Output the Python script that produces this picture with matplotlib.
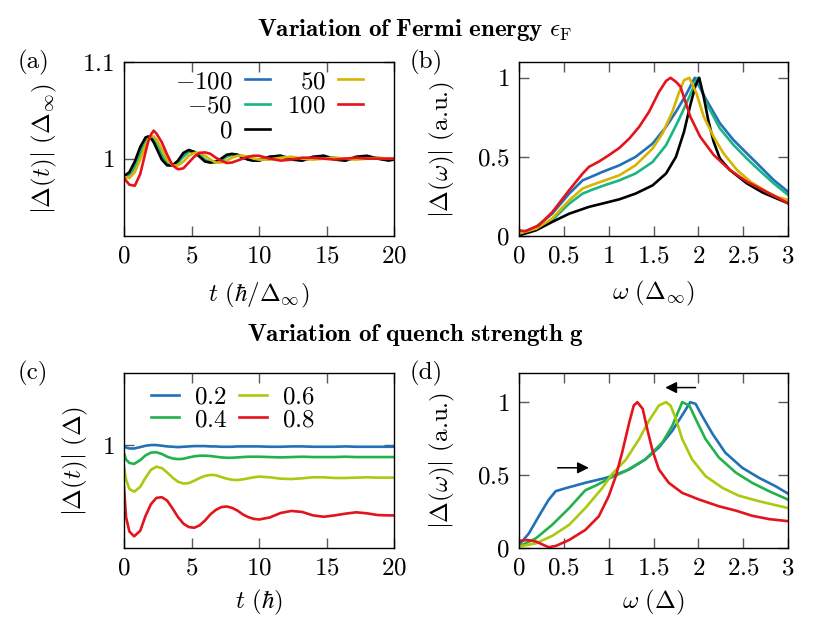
import matplotlib
matplotlib.use("Agg")
import matplotlib.pyplot as plt
import matplotlib.ticker as ticker

plt.rcParams['mathtext.fontset'] = 'cm'
plt.rcParams['font.family'] = 'cmr10'
plt.rcParams['axes.unicode_minus'] = False
plt.rcParams['font.size'] = 18

# ---- panel (a): |Delta(t)| for several Fermi energies ----
t_a = [0, 0.4, 0.8, 1.2, 1.6, 1.8, 2.0, 2.2, 2.4, 2.8, 3.2, 3.6, 4.0, 4.4, 4.8, 5.2, 5.6,
       6.0, 6.4, 6.8, 7.2, 7.6, 8.0, 8.4, 8.8, 9.2, 9.6, 10.0, 10.8, 11.6, 12.4, 13.2,
       14.0, 14.8, 15.6, 16.4, 17.2, 18.0, 18.8, 19.6, 20.0]
ef_labels = ['$-100$', '$-50$', '$0$', '$50$', '$100$']
ef_colors = ['#2270b8', '#1ab584', 'black', '#d8b400', '#e3141b']
delta_t_a = [
    # -100
    [0.982, 0.984, 0.993, 1.008, 1.020, 1.022, 1.022, 1.019, 1.014, 1.002, 0.994, 0.993, 0.997,
     1.004, 1.008, 1.007, 1.003, 0.998, 0.996, 0.997, 0.999, 1.003, 1.004, 1.004, 1.002, 0.999,
     0.998, 0.999, 1.002, 1.003, 1.000, 0.998, 1.001, 1.003, 1.000, 0.998, 1.001, 1.002, 1.000,
     0.999, 0.999],
    # -50
    [0.982, 0.983, 0.991, 1.005, 1.018, 1.021, 1.022, 1.020, 1.016, 1.004, 0.995, 0.993, 0.996,
     1.002, 1.007, 1.007, 1.004, 0.999, 0.996, 0.996, 0.998, 1.002, 1.004, 1.004, 1.002, 1.000,
     0.998, 0.998, 1.001, 1.002, 1.001, 0.999, 1.000, 1.002, 1.001, 0.999, 1.000, 1.002, 1.001,
     0.999, 1.000],
    # 0
    [0.982, 0.986, 0.997, 1.012, 1.022, 1.023, 1.021, 1.017, 1.011, 0.999, 0.993, 0.993, 0.998,
     1.006, 1.009, 1.007, 1.002, 0.997, 0.996, 0.997, 1.000, 1.004, 1.005, 1.004, 1.001, 0.999,
     0.998, 0.998, 1.002, 1.003, 0.999, 0.998, 1.002, 1.003, 0.999, 0.998, 1.002, 1.003, 1.000,
     0.998, 0.999],
    # 50
    [0.981, 0.980, 0.986, 0.999, 1.014, 1.020, 1.023, 1.023, 1.020, 1.010, 0.999, 0.993, 0.993,
     0.997, 1.003, 1.006, 1.006, 1.003, 0.999, 0.996, 0.996, 0.998, 1.001, 1.003, 1.003, 1.002,
     1.000, 0.999, 0.999, 1.001, 1.002, 1.000, 0.999, 1.000, 1.001, 1.000, 0.999, 1.000, 1.001,
     1.000, 1.000],
    # 100
    [0.980, 0.973, 0.972, 0.984, 1.007, 1.018, 1.025, 1.029, 1.026, 1.017, 1.004, 0.993, 0.989,
     0.990, 0.996, 1.002, 1.006, 1.0065, 1.005, 1.001, 0.998, 0.9955, 0.996, 0.998, 1.000, 1.002,
     1.003, 1.003, 1.000, 0.998, 0.999, 1.001, 1.001, 1.000, 0.999, 1.000, 1.001, 1.000, 1.000,
     1.000, 1.000],
]

# ---- panel (b): |Delta(omega)| for several Fermi energies ----
w_b = [
    [0, 0.19, 0.37, 0.56, 0.71, 0.8, 0.93, 1.12, 1.3, 1.49, 1.64, 1.75, 1.86, 1.96, 2.09, 2.24,
     2.39, 2.54, 2.69, 2.84, 3.0],
    [0, 0.19, 0.37, 0.56, 0.71, 0.8, 0.93, 1.12, 1.3, 1.49, 1.64, 1.78, 1.9, 1.99, 2.09, 2.24,
     2.39, 2.54, 2.69, 2.84, 3.0],
    [0, 0.19, 0.37, 0.56, 0.78, 0.93, 1.12, 1.3, 1.49, 1.64, 1.75, 1.84, 1.91, 1.97, 2.01, 2.06,
     2.11, 2.17, 2.24, 2.35, 2.54, 2.72, 3.0],
    [0, 0.19, 0.37, 0.56, 0.71, 0.8, 0.93, 1.12, 1.3, 1.49, 1.6, 1.71, 1.78, 1.84, 1.9, 1.98,
     2.06, 2.17, 2.28, 2.43, 2.58, 2.76, 2.87, 3.0],
    [0, 0.07, 0.22, 0.37, 0.56, 0.71, 0.78, 0.89, 1.0, 1.12, 1.23, 1.34, 1.45, 1.56, 1.64, 1.69,
     1.75, 1.8, 1.91, 2.02, 2.17, 2.35, 2.54, 2.72, 3.0],
]
spec_b = [
    [0.015, 0.057, 0.141, 0.268, 0.352, 0.373, 0.405, 0.447, 0.5, 0.584, 0.69, 0.785, 0.89, 1.0,
     0.86, 0.713, 0.608, 0.523, 0.439, 0.354, 0.28],
    [0.015, 0.046, 0.10, 0.205, 0.268, 0.289, 0.316, 0.352, 0.395, 0.468, 0.574, 0.732, 0.88, 1.0,
     0.84, 0.68, 0.577, 0.49, 0.41, 0.333, 0.26],
    [0.004, 0.036, 0.089, 0.141, 0.184, 0.205, 0.232, 0.268, 0.32, 0.395, 0.5, 0.658, 0.827,
     0.954, 1.0, 0.88, 0.734, 0.597, 0.49, 0.418, 0.333, 0.274, 0.207],
    [0.015, 0.046, 0.11, 0.226, 0.3, 0.32, 0.346, 0.384, 0.447, 0.553, 0.648, 0.785, 0.90, 0.985,
     1.0, 0.90, 0.755, 0.628, 0.523, 0.418, 0.344, 0.28, 0.249, 0.228],
    [0.036, 0.03, 0.067, 0.15, 0.29, 0.395, 0.437, 0.47, 0.51, 0.557, 0.616, 0.69, 0.785, 0.91,
     0.98, 1.0, 0.975, 0.945, 0.755, 0.628, 0.513, 0.418, 0.344, 0.291, 0.207],
]

# ---- panel (c): |Delta(t)| for several quench strengths ----
t_c = [0, 0.15, 0.4, 0.75, 1.2, 1.6, 2.0, 2.4, 2.8, 3.2, 3.6, 4.0, 4.4, 4.8, 5.2, 5.6, 6.0,
       6.4, 6.8, 7.2, 7.6, 8.0, 8.4, 8.8, 9.2, 9.6, 10.0, 10.8, 11.6, 12.4, 13.2, 14.0, 14.8,
       15.6, 16.4, 17.2, 18.0, 18.8, 19.6, 20.0]
g_labels = ['$0.2$', '$0.4$', '$0.6$', '$0.8$']
g_colors = ['#2270b8', '#22b24c', '#abc90f', '#e3141b']
delta_t_c = [
    [0.998, 0.993, 0.990, 0.990, 0.994, 0.998, 1.000, 1.000, 0.998, 0.996, 0.995, 0.994, 0.995,
     0.996, 0.997, 0.997, 0.997, 0.996, 0.996, 0.995, 0.995, 0.995, 0.996, 0.996, 0.996, 0.996,
     0.996, 0.995, 0.995, 0.996, 0.996, 0.995, 0.995, 0.995, 0.996, 0.995, 0.995, 0.995, 0.995,
     0.995],
    [0.976, 0.958, 0.948, 0.945, 0.956, 0.970, 0.978, 0.979, 0.974, 0.966, 0.961, 0.959, 0.960,
     0.964, 0.967, 0.969, 0.969, 0.968, 0.966, 0.964, 0.963, 0.963, 0.964, 0.965, 0.966, 0.966,
     0.966, 0.965, 0.964, 0.965, 0.966, 0.965, 0.965, 0.965, 0.966, 0.965, 0.965, 0.965, 0.965,
     0.965],
    [0.937, 0.900, 0.872, 0.864, 0.878, 0.905, 0.928, 0.937, 0.933, 0.920, 0.905, 0.893, 0.888,
     0.889, 0.896, 0.904, 0.910, 0.913, 0.912, 0.907, 0.902, 0.899, 0.898, 0.900, 0.903, 0.906,
     0.908, 0.906, 0.902, 0.901, 0.903, 0.906, 0.906, 0.904, 0.904, 0.905, 0.906, 0.905, 0.905,
     0.905],
    [0.877, 0.790, 0.748, 0.734, 0.750, 0.794, 0.828, 0.846, 0.848, 0.838, 0.815, 0.790, 0.771,
     0.761, 0.759, 0.766, 0.780, 0.798, 0.811, 0.819, 0.821, 0.817, 0.809, 0.798, 0.790, 0.785,
     0.783, 0.789, 0.802, 0.808, 0.805, 0.795, 0.791, 0.795, 0.800, 0.804, 0.801, 0.796, 0.795,
     0.795],
]

# ---- panel (d): |Delta(omega)| for several quench strengths ----
w_d = [
    [0, 0.11, 0.22, 0.33, 0.41, 0.52, 0.74, 0.93, 1.04, 1.23, 1.41, 1.56, 1.71, 1.84, 1.91, 1.97,
     2.04, 2.16, 2.3, 2.49, 2.68, 2.86, 3.0],
    [0, 0.19, 0.37, 0.56, 0.74, 0.86, 1.0, 1.19, 1.41, 1.6, 1.71, 1.82, 1.9, 1.97, 2.08, 2.23,
     2.42, 2.6, 2.79, 3.0],
    [0, 0.19, 0.37, 0.56, 0.74, 0.93, 1.04, 1.19, 1.34, 1.45, 1.56, 1.64, 1.69, 1.75, 1.82, 1.93,
     2.08, 2.27, 2.45, 2.68, 3.0],
    [0, 0.09, 0.19, 0.33, 0.41, 0.56, 0.74, 0.89, 1.0, 1.08, 1.15, 1.23, 1.28, 1.32, 1.38, 1.43,
     1.49, 1.56, 1.67, 1.82, 2.01, 2.23, 2.42, 2.6, 2.79, 3.0],
]
spec_d = [
    [0.02, 0.10, 0.217, 0.33, 0.39, 0.41, 0.447, 0.475, 0.493, 0.539, 0.608, 0.689, 0.804, 0.93,
     1.0, 0.988, 0.908, 0.781, 0.654, 0.55, 0.48, 0.424, 0.373],
    [0.01, 0.067, 0.159, 0.274, 0.396, 0.429, 0.475, 0.528, 0.608, 0.724, 0.839, 1.0, 0.977,
     0.885, 0.747, 0.62, 0.516, 0.447, 0.389, 0.332],
    [0.01, 0.032, 0.083, 0.159, 0.274, 0.412, 0.509, 0.604, 0.747, 0.873, 0.977, 1.0, 0.977,
     0.885, 0.747, 0.608, 0.493, 0.412, 0.359, 0.32, 0.274],
    [0.048, 0.055, 0.044, 0.005, 0.014, 0.055, 0.124, 0.217, 0.355, 0.493, 0.654, 0.862, 0.977,
     1.0, 0.954, 0.816, 0.666, 0.539, 0.447, 0.378, 0.332, 0.286, 0.256, 0.221, 0.198, 0.184],
]

LW = 1.9
FS = 18

fig = plt.figure(figsize=(8.3, 6.23), dpi=100)
ax_a = fig.add_axes([0.1494, 0.6212, 0.3253, 0.2793])
ax_b = fig.add_axes([0.6253, 0.6212, 0.3241, 0.2793])
ax_c = fig.add_axes([0.1494, 0.1204, 0.3253, 0.2809])
ax_d = fig.add_axes([0.6253, 0.1204, 0.3241, 0.2809])

for ax in (ax_a, ax_b, ax_c, ax_d):
    ax.tick_params(direction='in', top=True, right=True, length=7, width=1,
                   color='0.35', labelsize=FS, pad=7)
    for s in ax.spines.values():
        s.set_linewidth(1.0)
    ax.xaxis.set_major_formatter(ticker.FormatStrFormatter('$%g$'))
    ax.yaxis.set_major_formatter(ticker.FormatStrFormatter('$%g$'))

# (a)
for vals, lab, col in zip(delta_t_a, ef_labels, ef_colors):
    ax_a.plot(t_a, vals, color=col, lw=LW, label=lab)
ax_a.set_xlim(0, 20)
ax_a.set_ylim(0.92, 1.1)
ax_a.set_xticks([0, 5, 10, 15, 20])
ax_a.set_yticks([1, 1.1])
ax_a.set_xlabel(r'$t\ (\hbar/\Delta_\infty)$', va='center', fontsize=FS)
ax_a.set_ylabel(r'$|\Delta(t)|\ (\Delta_\infty)$', va='center', fontsize=FS)
ax_a.xaxis.set_label_coords(0.5, -0.339)
ax_a.yaxis.set_label_coords(-0.293, 0.5)
ax_a.legend(ncol=2, markerfirst=False, frameon=False, loc='upper right',
            bbox_to_anchor=(0.887, 0.95), borderpad=0, borderaxespad=0,
            handlelength=1.0, handletextpad=0.5, columnspacing=0.7,
            labelspacing=0.09, fontsize=FS)

# (b)
for w, vals, col in zip(w_b, spec_b, ef_colors):
    ax_b.plot(w, vals, color=col, lw=LW)
ax_b.set_xlim(0, 3)
ax_b.set_ylim(0, 1.1)
ax_b.set_xticks([0, 0.5, 1, 1.5, 2, 2.5, 3])
ax_b.set_yticks([0, 0.5, 1])
ax_b.set_xlabel(r'$\omega\ (\Delta_\infty)$', va='center', fontsize=FS)
ax_b.set_ylabel(r'$|\Delta(\omega)|$ (a.u.)', va='center', fontsize=FS)
ax_b.xaxis.set_label_coords(0.5, -0.328)
ax_b.yaxis.set_label_coords(-0.286, 0.5)

# (c)
for vals, lab, col in zip(delta_t_c, g_labels, g_colors):
    ax_c.plot(t_c, vals, color=col, lw=LW, label=lab)
ax_c.set_xlim(0, 20)
ax_c.set_ylim(0.7, 1.21)
ax_c.set_xticks([0, 5, 10, 15, 20])
ax_c.set_yticks([1])
ax_c.set_xlabel(r'$t\ (\hbar)$', va='center', fontsize=FS)
ax_c.set_ylabel(r'$|\Delta(t)|\ (\Delta)$', va='center', fontsize=FS)
ax_c.xaxis.set_label_coords(0.5, -0.314)
ax_c.yaxis.set_label_coords(-0.181, 0.5)
ax_c.legend(ncol=2, frameon=False, loc='upper left',
            bbox_to_anchor=(0.1, 0.925), borderpad=0, borderaxespad=0,
            handlelength=1.1, handletextpad=0.6, columnspacing=0.5,
            labelspacing=0.0, fontsize=FS)

# (d)
for w, vals, col in zip(w_d, spec_d, g_colors):
    ax_d.plot(w, vals, color=col, lw=LW)
ax_d.set_xlim(0, 3)
ax_d.set_ylim(0, 1.2)
ax_d.set_xticks([0, 0.5, 1, 1.5, 2, 2.5, 3])
ax_d.set_yticks([0, 0.5, 1])
ax_d.set_xlabel(r'$\omega\ (\Delta)$', va='center', fontsize=FS)
ax_d.set_ylabel(r'$|\Delta(\omega)|$ (a.u.)', va='center', fontsize=FS)
ax_d.xaxis.set_label_coords(0.5, -0.314)
ax_d.yaxis.set_label_coords(-0.286, 0.5)
arrow = dict(arrowstyle='-|>', color='black', lw=1.1, mutation_scale=17)
ax_d.annotate('', xy=(0.81, 0.55), xytext=(0.40, 0.55), arrowprops=arrow)
ax_d.annotate('', xy=(1.6, 1.1), xytext=(2.0, 1.1), arrowprops=arrow)

# titles and panel labels
fig.text(0.5, 1 - 30 / 623, r'$\mathbf{Variation\ of\ Fermi\ energy}\ \epsilon_{\mathrm{F}}$',
         ha='center', va='center', fontsize=FS)
fig.text(0.5, 1 - 335 / 623, r'$\mathbf{Variation\ of\ quench\ strength\ g}$',
         ha='center', va='center', fontsize=FS)
for x, y, s in [(18, 62, '(a)'), (410, 62, '(b)'), (18, 373, '(c)'), (410, 373, '(d)')]:
    fig.text(x / 830, 1 - y / 623, s, ha='left', va='center', fontsize=FS)

fig.savefig('out.png', dpi=100)
